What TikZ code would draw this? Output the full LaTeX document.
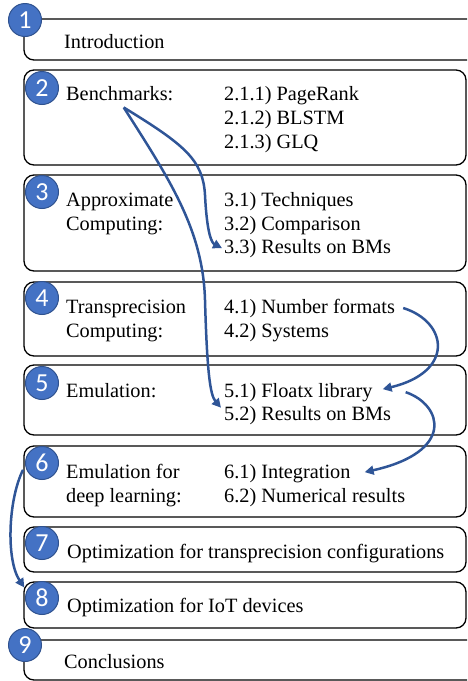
\documentclass[tikz,border=0pt]{standalone}
\usepackage{fontspec}
\setmainfont{Liberation Serif}
\newfontfamily\numfont{Carlito}
\usetikzlibrary{arrows.meta}
\definecolor{badgefill}{HTML}{4472C4}
\definecolor{badgeline}{HTML}{2F528F}
\definecolor{flow}{HTML}{2F5597}
\tikzset{
  section/.style={draw=black, line width=1.3pt, rounded corners=10pt, inner sep=0pt},
  badge/.style={circle, fill=badgefill, draw=badgeline, line width=1pt,
    minimum size=33pt, inner sep=0pt, text=white,
    font=\numfont\fontsize{26}{26}\selectfont},
  txt/.style={anchor=base west, inner sep=0pt, font=\fontsize{20.3}{24}\selectfont},
  link/.style={draw=flow, line width=2.5pt, -{Triangle[length=9pt,width=9pt]}}
}
\begin{document}
\begin{tikzpicture}[x=1pt,y=-1pt]
\useasboundingbox (0,0) rectangle (467,681);
\clip (0,0) rectangle (467,681);

% section frames
\node[section, minimum width=466pt, minimum height=41pt] (b1) at (257,39.5) {};
\node[section, minimum width=442pt, minimum height=95pt] (b2) at (245,117.5) {};
\node[section, minimum width=442pt, minimum height=96pt] (b3) at (245,223) {};
\node[section, minimum width=442pt, minimum height=74pt] (b4) at (245,319) {};
\node[section, minimum width=442pt, minimum height=70pt] (b5) at (245,400) {};
\node[section, minimum width=442pt, minimum height=71pt] (b6) at (245,481.5) {};
\node[section, minimum width=442pt, minimum height=45pt] (b7) at (245,549.5) {};
\node[section, minimum width=442pt, minimum height=46pt] (b8) at (245,605) {};
\node[section, minimum width=466pt, minimum height=40pt] (b9) at (257,660) {};

% numbered badges
\node[badge] (c1) at (25,20) {1};
\node[badge] (c2) at (42,88) {2};
\node[badge] (c3) at (42,192) {3};
\node[badge] (c4) at (42,298) {4};
\node[badge] (c5) at (42,383) {5};
\node[badge] (c6) at (42,463) {6};
\node[badge] (c7) at (42,543) {7};
\node[badge] (c8) at (42,598) {8};
\node[badge] (c9) at (25,645) {9};

% chapter titles
\node[txt] (intro) at (64,48) {Introduction};
\node[txt] (bench) at (66,100) {Benchmarks:};
\node[txt] (approxA) at (66,206) {Approximate};
\node[txt] (approxB) at (66,230) {Computing:};
\node[txt] (transA) at (66,313) {Transprecision};
\node[txt] (transB) at (66,337) {Computing:};
\node[txt] (emu) at (66,397) {Emulation:};
\node[txt] (deepA) at (66,478) {Emulation for};
\node[txt] (deepB) at (66,502) {deep learning:};
\node[txt] (opt7) at (67,558) {Optimization for transprecision configurations};
\node[txt] (opt8) at (67,612) {Optimization for IoT devices};
\node[txt] (concl) at (64,668) {Conclusions};

% sub-sections
\node[txt] (r211) at (224,100) {2.1.1) PageRank};
\node[txt] (r212) at (224,124) {2.1.2) BLSTM};
\node[txt] (r213) at (224,148) {2.1.3) GLQ};
\node[txt] (r31) at (224,206) {3.1) Techniques};
\node[txt] (r32) at (224,230) {3.2) Comparison};
\node[txt] (r33) at (224,253) {3.3) Results on BMs};
\node[txt] (r41) at (224,313) {4.1) Number formats};
\node[txt] (r42) at (224,337) {4.2) Systems};
\node[txt] (r51) at (224,397) {5.1) Floatx library};
\node[txt] (r52) at (224,420) {5.2) Results on BMs};
\node[txt] (r61) at (224,478) {6.1) Integration};
\node[txt] (r62) at (224,502) {6.2) Numerical results};

% dependency arrows
\draw[link] ([shift={(4,7)}]bench.south) .. controls (185,145) and (203,160) .. (205,195)
  .. controls (207,235) and (212,243) .. ([xshift=-2pt]r33.west);
\draw[link] ([shift={(4,7)}]bench.south) .. controls (170,180) and (203,230) .. (205,300)
  .. controls (207,370) and (210,395) .. ([shift={(-3,2)}]r52.north west);
\draw[link] ([xshift=8pt]r41.east) .. controls (448,322) and (455,372) .. ([shift={(10,-3)}]r51.east);
\draw[link] ([xshift=33pt]r51.east) .. controls (443,405) and (455,452) .. ([shift={(14,-1)}]r61.east);
\draw[link] ([shift={(-3,1)}]c6.200) .. controls (8,500) and (6,560) .. ([shift={(-3,-2)}]c8.150);
\end{tikzpicture}
\end{document}
